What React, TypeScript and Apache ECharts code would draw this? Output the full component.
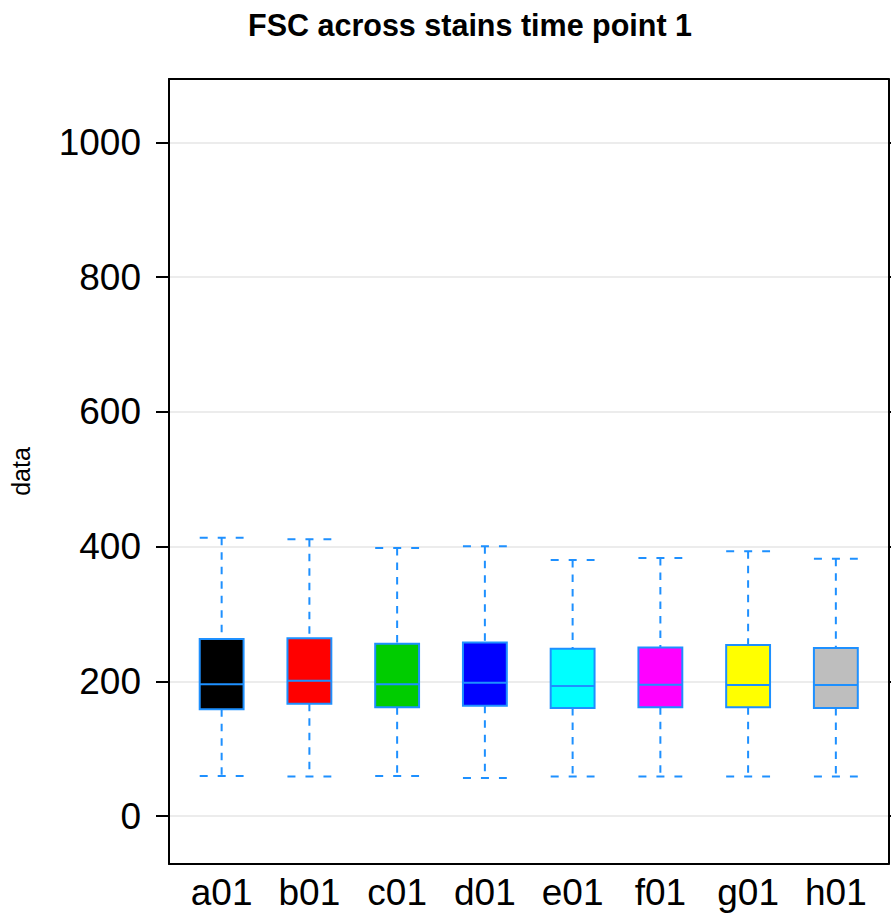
import React, { useEffect, useRef } from "react";
import * as echarts from "echarts";

const categories = ["a01", "b01", "c01", "d01", "e01", "f01", "g01", "h01"];
const mins = [59.7, 58.8, 59.7, 56.8, 58.8, 58.8, 58.8, 58.8];
const q1s = [158.5, 167, 161.5, 164, 160.5, 161.5, 161.5, 160.5];
const medians = [195.6, 201, 195.6, 198, 193, 195, 194.6, 194.6];
const q3s = [263, 264, 256, 257.8, 248.4, 250.4, 254, 249.4];
const maxs = [413, 411, 398, 400.5, 380, 383, 393, 382];
const yTicks = [0, 200, 400, 600, 800, 1000];
const fills = ["#000000", "#ff0000", "#00cc00", "#0000ff", "#00ffff", "#ff00ff", "#ffff00", "#bebebe"];

const FONT = "'Liberation Sans', Arial, sans-serif";
const EDGE = "#1E90FF";

export default function App() {
  const ref = useRef<HTMLDivElement>(null);
  useEffect(() => {
    if (!ref.current) return;
    const chart = echarts.init(ref.current, undefined, { renderer: "svg" });
    const data = categories.map((_, i) => [i + 1, mins[i], q1s[i], medians[i], q3s[i], maxs[i]]);
    const hw = 0.25;
    const option: any = {
      animation: false,
      backgroundColor: "#ffffff",
      title: {
        text: "FSC across stains time point 1",
        left: 243,
        top: 4,
        textStyle: { fontFamily: FONT, fontSize: 30.5, fontWeight: "bold", color: "#000" },
      },
      grid: { left: 166, right: 2.5, top: 79, bottom: 50, containLabel: false },
      xAxis: [
        {
          type: "value",
          min: 0.4,
          max: 8.6,
          position: "bottom",
          axisLine: { show: true, onZero: false, lineStyle: { color: "#000", width: 2 } },
          axisTick: { show: false },
          splitLine: { show: false },
          axisLabel: {
            customValues: categories.map((_, i) => i + 1),
            formatter: (v: number) => categories[Math.round(v) - 1] ?? "",
            fontFamily: FONT,
            fontSize: 37,
            color: "#000",
            margin: 10,
          },
        },
        {
          type: "value",
          min: 0.4,
          max: 8.6,
          position: "top",
          axisLine: { show: true, onZero: false, lineStyle: { color: "#000", width: 2 } },
          axisTick: { show: false },
          splitLine: { show: false },
          axisLabel: { show: false },
        },
      ],
      yAxis: [
        {
          type: "value",
          min: -71,
          max: 1094,
          position: "left",
          name: "data",
          nameLocation: "middle",
          nameGap: 136,
          nameTextStyle: { fontFamily: FONT, fontSize: 25, color: "#000" },
          axisLine: { show: true, onZero: false, lineStyle: { color: "#000", width: 2 } },
          axisTick: {
            show: true,
            inside: false,
            length: 13,
            customValues: yTicks,
            lineStyle: { color: "#000", width: 2 },
          },
          splitLine: { show: true, lineStyle: { color: "#e6e6e6", width: 1.5 } },
          axisLabel: {
            customValues: yTicks,
            formatter: (v: number) => String(v),
            fontFamily: FONT,
            fontSize: 37,
            color: "#000",
            margin: 28,
          },
        },
        {
          type: "value",
          min: -71,
          max: 1094,
          position: "right",
          axisLine: { show: true, onZero: false, lineStyle: { color: "#000", width: 2 } },
          axisTick: {
            show: true,
            inside: false,
            length: 13,
            customValues: yTicks,
            lineStyle: { color: "#000", width: 2 },
          },
          splitLine: { show: false },
          axisLabel: { show: false },
        },
      ],
      series: [
        {
          type: "custom",
          xAxisIndex: 0,
          yAxisIndex: 0,
          data,
          encode: { x: 0, y: [1, 2, 3, 4, 5] },
          renderItem: (params: any, api: any) => {
            const x = api.value(0);
            const lo = api.value(1);
            const q1 = api.value(2);
            const med = api.value(3);
            const q3 = api.value(4);
            const hi = api.value(5);
            const idx = params.dataIndex;
            const tl = api.coord([x - hw, q3]);
            const br = api.coord([x + hw, q1]);
            const cTop = api.coord([x, hi]);
            const cQ3 = api.coord([x, q3]);
            const cQ1 = api.coord([x, q1]);
            const cLo = api.coord([x, lo]);
            const mL = api.coord([x - hw, med]);
            const mR = api.coord([x + hw, med]);
            const hiL = api.coord([x - hw, hi]);
            const hiR = api.coord([x + hw, hi]);
            const loL = api.coord([x - hw, lo]);
            const loR = api.coord([x + hw, lo]);
            const dashV = { stroke: EDGE, lineWidth: 2, lineDash: [7.5, 7] };
            const dashH = { stroke: EDGE, lineWidth: 2, lineDash: [8, 10] };
            return {
              type: "group",
              children: [
                { type: "line", shape: { x1: cTop[0], y1: cTop[1], x2: cQ3[0], y2: cQ3[1] }, style: dashV },
                { type: "line", shape: { x1: cQ1[0], y1: cQ1[1], x2: cLo[0], y2: cLo[1] }, style: dashV },
                { type: "line", shape: { x1: hiL[0], y1: hiL[1], x2: hiR[0], y2: hiR[1] }, style: dashH },
                { type: "line", shape: { x1: loL[0], y1: loL[1], x2: loR[0], y2: loR[1] }, style: dashH },
                {
                  type: "rect",
                  shape: { x: tl[0], y: tl[1], width: br[0] - tl[0], height: br[1] - tl[1] },
                  style: { fill: fills[idx], stroke: EDGE, lineWidth: 2 },
                },
                { type: "line", shape: { x1: mL[0], y1: mL[1], x2: mR[0], y2: mR[1] }, style: { stroke: EDGE, lineWidth: 2 } },
              ],
            };
          },
        },
      ],
    };
    chart.setOption(option);
    return () => chart.dispose();
  }, []);
  return (
    <div
      ref={ref}
      style={{ position: "fixed", left: 0, top: 0, width: 891, height: 914, background: "#fff" }}
    />
  );
}
